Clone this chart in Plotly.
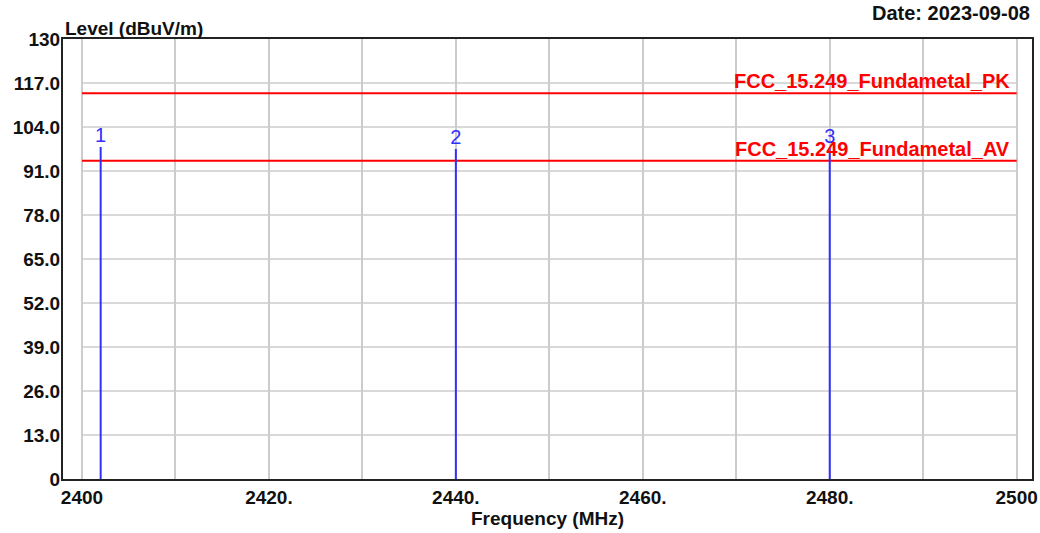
import plotly.graph_objects as go

# ---- data ----
marker_ids = ["1", "2", "3"]
marker_freq = [2402, 2440, 2480]          # MHz
marker_level = [98.1, 97.5, 97.8]         # dBuV/m

limit_names = ["FCC_15.249_Fundametal_PK", "FCC_15.249_Fundametal_AV"]
limit_levels = [114, 94]
limit_span = [2400, 2500]

x_tickvals = [2400, 2410, 2420, 2430, 2440, 2450, 2460, 2470, 2480, 2490, 2500]
x_ticktext = ["2400", "", "2420.", "", "2440.", "", "2460.", "", "2480.", "", "2500"]
y_tickvals = [0, 13, 26, 39, 52, 65, 78, 91, 104, 117, 130]
y_ticktext = ["0", "13.0", "26.0", "39.0", "52.0", "65.0", "78.0", "91.0", "104.0", "117.0", "130"]
grid_levels = [13, 26, 39, 52, 65, 78, 91, 104, 117]

FONT = "Liberation Sans, Arial, sans-serif"

fig = go.Figure()

# horizontal grid lines (only across the 2400-2500 span)
for g in grid_levels:
    fig.add_shape(type="line", xref="x", yref="y", x0=limit_span[0], x1=limit_span[1],
                  y0=g, y1=g, line=dict(color="#cccccc", width=1.6), layer="below")

# limit lines
for lvl in limit_levels:
    fig.add_trace(go.Scatter(x=limit_span, y=[lvl, lvl], mode="lines",
                             line=dict(color="#ff0000", width=2), hoverinfo="skip",
                             showlegend=False))

# marker lines
mx, my = [], []
for f, l in zip(marker_freq, marker_level):
    mx += [f, f, None]
    my += [0, l, None]
fig.add_trace(go.Scatter(x=mx, y=my, mode="lines", line=dict(color="#3030ff", width=2),
                         hoverinfo="skip", showlegend=False))
fig.add_trace(go.Scatter(x=marker_freq, y=marker_level, mode="text", text=marker_ids,
                         textposition="top center",
                         textfont=dict(family=FONT, size=20, color="#3030ff"),
                         hoverinfo="skip", showlegend=False))

fig.update_layout(
    width=1040, height=533,
    margin=dict(l=63, r=8, t=39, b=54),
    paper_bgcolor="white", plot_bgcolor="white",
    font=dict(family=FONT, size=19, color="#111111"),
    xaxis=dict(range=[2397.97, 2501.64], tickvals=x_tickvals, ticktext=x_ticktext,
               automargin=False,
               showgrid=True, gridcolor="#cccccc", gridwidth=1.6,
               showline=True, mirror=True, linecolor="#222222", linewidth=2,
               ticks="", zeroline=False, ticklabelstandoff=0,
               tickfont=dict(family=FONT, size=19, color="#111111", weight="bold"),
               title=dict(text="Frequency (MHz)", standoff=0,
                          font=dict(family=FONT, size=19, color="#111111", weight="bold"))),
    yaxis=dict(range=[0, 130], tickvals=y_tickvals, ticktext=y_ticktext,
               automargin=False,
               showgrid=False, zeroline=False,
               showline=True, mirror=True, linecolor="#222222", linewidth=2,
               ticks="", ticklabelstandoff=-3,
               tickfont=dict(family=FONT, size=19, color="#111111", weight="bold")),
)

fig.add_annotation(text="Level (dBuV/m)", xref="paper", yref="paper", x=0, y=1,
                   xanchor="left", yanchor="bottom", yshift=-2, showarrow=False,
                   font=dict(family=FONT, size=19, color="#111111", weight="bold"))
fig.add_annotation(text="Date: 2023-09-08", xref="paper", yref="paper", x=1, y=1,
                   xanchor="right", yanchor="bottom", yshift=13, showarrow=False,
                   font=dict(family=FONT, size=20, color="#111111", weight="bold"))
for name, lvl in zip(limit_names, limit_levels):
    fig.add_annotation(x=limit_span[1], y=lvl, xref="x", yref="y", text=name,
                       showarrow=False, xanchor="right", yanchor="bottom",
                       xshift=-5, yshift=-1,
                       font=dict(family=FONT, size=20, color="#ff0000", weight="bold"))

fig.write_html("out.html", config={"displayModeBar": False},
               post_script="document.body.style.margin='0';")
